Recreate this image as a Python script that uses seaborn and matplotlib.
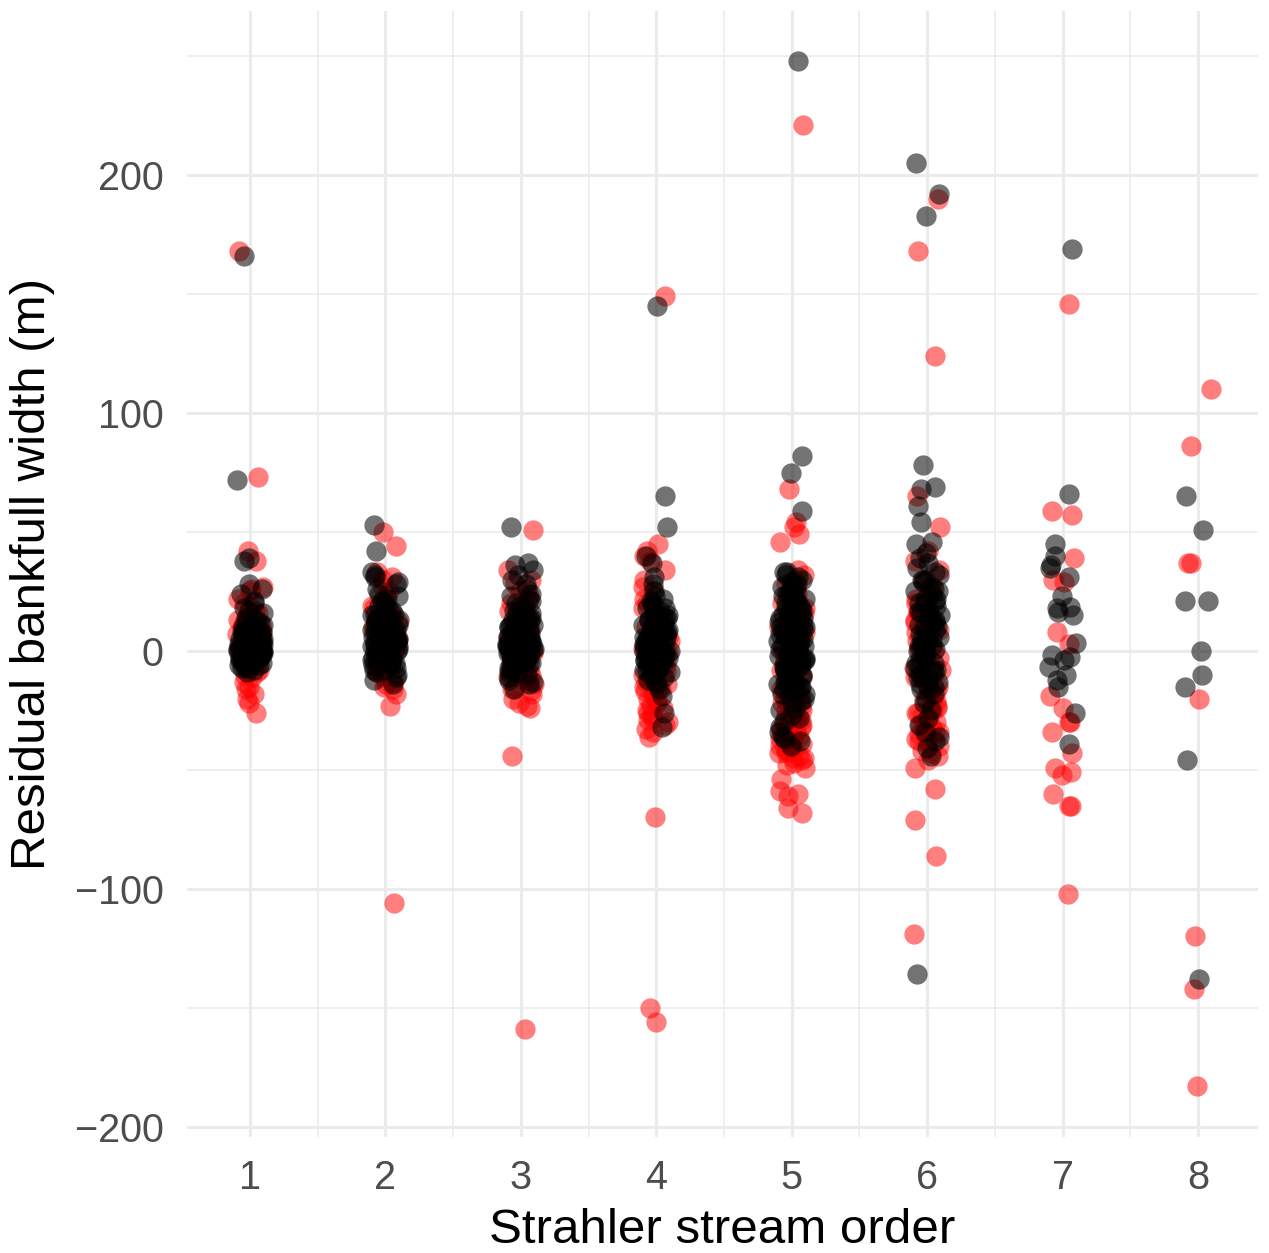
import numpy as np
import pandas as pd
import matplotlib
matplotlib.use("Agg")
import matplotlib.pyplot as plt
import seaborn as sns

orders = [1, 2, 3, 4, 5, 6, 7, 8]

# residuals of the first model (red), per stream order
red_1 = [168, 73, 42, 38, 27, 26, 25, 22, 20, 19, 17, 16, 14, 13, 12, 11, 10, 9, 8, 7,
         6, 5, 4, 3, 2, 1, 0, 0, -1, -2, -3, -4, -5, -6, -7, -8, -9, -10, -11, -13,
         -15, -16, -18, -20, -22, -26]
red_2 = [50, 44, 33, 31, 30, 27, 25, 23, 21, 19, 18, 16, 15, 14, 12, 11, 10, 8, 7, 6, 5,
         4, 3, 2, 1, 0, -1, -2, -3, -4, -5, -6, -7, -8, -9, -10, -11, -12, -13, -14,
         -15, -16, -18, -23, -106]
red_3 = [51, 34, 30, 28, 25, 23, 21, 20, 18, 17, 15, 14, 12, 11, 10, 9, 8, 6, 5, 4, 3,
         2, 1, 0, -1, -2, -3, -4, -5, -6, -7, -8, -9, -10, -11, -12, -13, -14, -15,
         -16, -17, -18, -20, -22, -23, -24, -44, -159]
red_4 = [149, 45, 42, 40, 38, 34, 30, 27, 25, 22, 20, 18, 16, 14, 12, 10, 9, 7, 6, 4, 3,
         1, 0, -1, -3, -5, -6, -7, -9, -10, -11, -12, -13, -14, -15, -16, -17, -18,
         -19, -20, -21, -22, -23, -24, -25, -26, -27, -28, -29, -30, -31, -33, -34,
         -36, -70, -150, -156]
red_5 = [221, 68, 54, 52, 49, 46, 34, 32, 30, 28, 26, 24, 22, 20, 18, 16, 14, 12, 10, 8,
         6, 4, 2, 0, -2, -4, -6, -8, -10, -12, -14, -16, -17, -18, -19, -20, -21, -22,
         -23, -24, -25, -26, -27, -28, -29, -30, -31, -32, -33, -34, -35, -36, -37,
         -38, -39, -40, -41, -42, -43, -44, -45, -46, -47, -48, -49, -54, -59, -60,
         -61, -66, -68, -21, -25, -29, -33, -37, -41, -45, -27, -35, -43]
red_6 = [190, 168, 124, 65, 52, 42, 38, 34, 30, 27, 24, 22, 20, 17, 16, 13, 12, 9, 8, 5,
         4, 1, 0, -3, -4, -7, -8, -11, -12, -14, -15, -17, -18, -20, -21, -23, -24,
         -25, -26, -27, -28, -29, -30, -31, -32, -33, -34, -35, -36, -37, -38, -40,
         -42, -44, -46, -49, -58, -71, -86, -119, -22, -26, -30, -34, -38, -43]
red_7 = [146, 59, 57, 39, 30, 29, 8, 3, -19, -24, -30, -30, -34, -43, -49, -51, -52, -60,
         -65, -65, -102]
red_8 = [110, 86, 37, 37, -20, -120, -142, -183]

# residuals of the second model (black), per stream order
black_1 = [166, 72, 39, 38, 28, 26, 24, 21, 20, 18, 17, 16, 14, 13, 12, 12, 11, 11, 10,
           10, 9, 9, 8, 8, 8, 7, 7, 7, 6, 6, 6, 5, 5, 5, 5, 4, 4, 4, 4, 3, 3, 3, 3, 2,
           2, 2, 2, 1, 1, 1, 1, 0, 0, 0, 0, 0, -1, -1, -1, -1, -2, -2, -2, -2, -3, -3,
           -3, -4, -4, -4, -5, -5, -5, -6, -6, -7, -7, -8, -9,
           10, 9, 8, 7, 6, 5, 4, 3, 2, 1, 0, -1, -2, -3, -4, -5, -6, 3, 2, 1, 0, -1, 5, 4]
black_2 = [53, 42, 33, 32, 31, 29, 28, 26, 24, 23, 22, 21, 20, 19, 18, 17, 16, 15, 15,
           14, 13, 13, 12, 12, 11, 11, 10, 10, 9, 9, 8, 8, 7, 7, 6, 6, 6, 5, 5, 5, 4, 4,
           4, 3, 3, 3, 2, 2, 2, 1, 1, 1, 0, 0, 0, -1, -1, -1, -2, -2, -3, -3, -4, -4,
           -5, -5, -6, -7, -8, -9, -10, -11, -12, -14,
           15, 12, 10, 8, 6, 4, 2, 0, -2, -4, -6, -8, 10, 7, 5, 3, 1, -1, -3, -5, 14, 9]
black_3 = [52, 37, 36, 34, 32, 30, 28, 26, 24, 23, 22, 21, 20, 19, 18, 17, 16, 15, 14,
           14, 13, 13, 12, 12, 11, 11, 10, 10, 9, 9, 8, 8, 7, 7, 6, 6, 5, 5, 5, 4, 4, 4,
           3, 3, 3, 2, 2, 2, 1, 1, 1, 0, 0, 0, -1, -1, -1, -2, -2, -3, -3, -4, -4, -5,
           -5, -6, -7, -8, -9, -10, -11, -12, -13, -14, -16,
           16, 13, 11, 9, 7, 5, 3, 1, -1, -3, -5, -7, -9, 12, 8, 4, 0, -4, -8, 6, 2, -2]
black_4 = [145, 65, 52, 40, 37, 31, 28, 25, 23, 22, 21, 20, 19, 18, 17, 16, 15, 14, 13,
           13, 12, 12, 11, 11, 10, 10, 9, 9, 8, 8, 7, 7, 6, 6, 5, 5, 4, 4, 3, 3, 2, 2,
           1, 1, 0, 0, 0, -1, -1, -2, -2, -3, -3, -4, -4, -5, -5, -6, -6, -7, -7, -8,
           -8, -9, -10, -11, -12, -13, -14, -16, -19, -26, -32,
           18, 14, 10, 8, 6, 4, 2, 0, -2, -4, -6, -8, -10, 12, 9, 5, 3, 1, -1, -3, -5, -7]
black_5 = [248, 82, 75, 59, 33, 33, 32, 31, 30, 29, 28, 27, 26, 25, 24, 23, 22, 21, 20,
           20, 19, 18, 18, 17, 16, 16, 15, 14, 14, 13, 12, 12, 11, 10, 10, 9, 8, 8, 7,
           6, 6, 5, 4, 4, 3, 2, 2, 1, 0, 0, -1, -2, -2, -3, -4, -4, -5, -6, -6, -7, -8,
           -8, -9, -10, -10, -11, -12, -12, -13, -14, -14, -15, -16, -17, -18, -19, -20,
           -21, -22, -24, -25, -27, -28, -30, -32, -34, -36, -37, -38, -40,
           28, 24, 20, 16, 12, 8, 4, 0, -4, -8, -12, -16, -18, 26, 22, 18, 14, 10, 6, 2,
           -2, -6, -10, -14, 15, 5, -5, -15]
black_6 = [205, 192, 183, 78, 69, 68, 61, 54, 46, 45, 41, 39, 37, 35, 33, 32, 30, 29, 27,
           26, 25, 24, 22, 21, 20, 19, 18, 17, 16, 15, 14, 13, 12, 11, 10, 9, 8, 7, 6,
           5, 5, 4, 3, 2, 2, 1, 0, 0, -1, -2, -3, -4, -5, -6, -7, -8, -9, -10, -11, -12,
           -13, -14, -15, -16, -18, -20, -22, -25, -28, -31, -34, -36, -38, -41, -44,
           -136, 30, 25, 20, 15, 10, 5, 0, -5, -10, -15, 22, 12, 2, -8]
black_7 = [169, 66, 45, 40, 36, 35, 31, 23, 18.5, 18, 16.4, 15, 3.4, -1.7, -2.5, -3.8,
           -6.7, -10, -12, -15, -26, -39]
black_8 = [65, 51, 21, 21, 0, -10, -15, -46, -138]

red_res = [red_1, red_2, red_3, red_4, red_5, red_6, red_7, red_8]
black_res = [black_1, black_2, black_3, black_4, black_5, black_6, black_7, black_8]


def long_frame(groups):
    rows = [(o, v) for o, vals in zip(orders, groups) for v in vals]
    return pd.DataFrame(rows, columns=["order", "residual"])


sns.set_style("white")
plt.rcParams["font.family"] = ["Liberation Sans", "DejaVu Sans"]

fig = plt.figure(figsize=(12.69, 12.53), dpi=100)
ax = fig.add_axes([0.1474, 0.0926, 0.8439, 0.8986])

np.random.seed(7)
for groups, col, a in [(red_res, "#FF0000", 0.5), (black_res, "#000000", 0.55)]:
    sns.stripplot(data=long_frame(groups), x="order", y="residual", orient="x",
                  native_scale=True, jitter=0.1, color=col, alpha=a,
                  size=14.6, linewidth=0, ax=ax, zorder=3)

ax.set_xlim(0.535, 8.443)
ax.set_ylim(-204.3, 269)
ax.set_xticks(orders)
ax.set_xticks(np.arange(1.5, 8, 1), minor=True)
ax.set_yticks([-200, -100, 0, 100, 200])
ax.set_yticks([-150, -50, 50, 150, 250], minor=True)

ax.grid(which="major", color="#EBEBEB", lw=2.2)
ax.grid(which="minor", color="#EBEBEB", lw=1.1)
ax.set_axisbelow(True)
for s in ax.spines.values():
    s.set_visible(False)
ax.tick_params(which="both", length=0)
ax.tick_params(axis="x", pad=16, labelsize=28.5, labelcolor="#4D4D4D")
ax.tick_params(axis="y", pad=17, labelsize=28.5, labelcolor="#4D4D4D")

ax.set_xlabel("Strahler stream order", fontsize=35.5, color="black", labelpad=8)
ax.set_ylabel("Residual bankfull width (m)", fontsize=35.5, color="black", labelpad=14)

fig.savefig("out.png", dpi=100)
